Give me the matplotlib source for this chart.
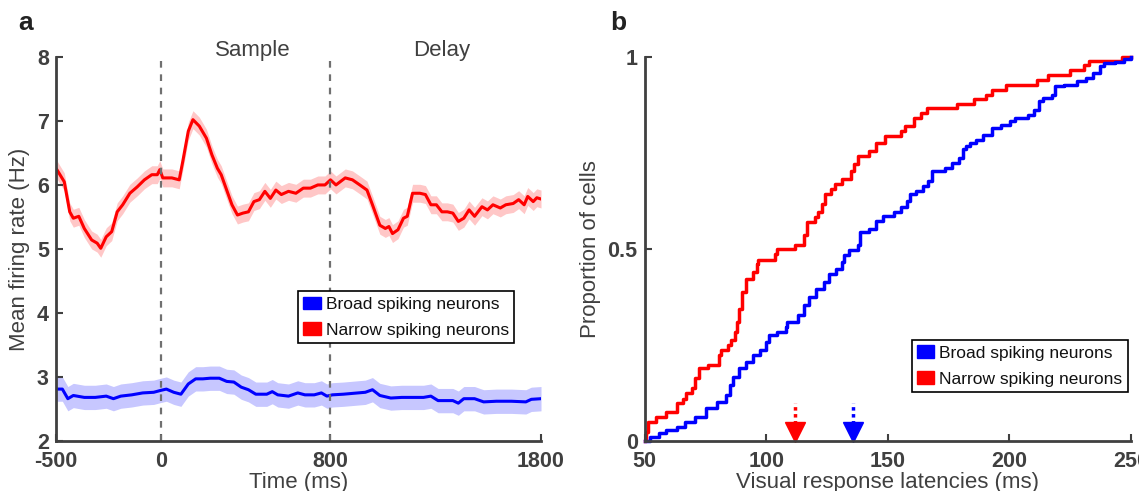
import numpy as np
import matplotlib.pyplot as plt
from matplotlib.patches import Patch

# ---- panel a: mean firing rate over time ----
narrow_t = [-495, -460, -434, -417, -391, -365, -330, -304, -287, -261, -235, -209, -183, -149, -114,
            -80, -45, -19, -7, 7, 50, 85, 102, 128, 150, 180, 214, 240, 266, 284, 310, 335, 361, 387,
            413, 439, 465, 491, 517, 543, 569, 603, 638, 673, 707, 742, 776, 802, 828, 872, 906, 941,
            975, 1001, 1036, 1062, 1079, 1096, 1122, 1148, 1166, 1191, 1226, 1252, 1278, 1304, 1330,
            1356, 1382, 1408, 1434, 1459, 1485, 1520, 1546, 1572, 1607, 1633, 1668, 1694, 1720, 1737,
            1763, 1780, 1800]
narrow_rate = [6.24, 6.05, 5.58, 5.48, 5.51, 5.32, 5.14, 5.09, 5.01, 5.19, 5.27, 5.58, 5.69, 5.87, 5.97,
               6.08, 6.16, 6.16, 6.24, 6.11, 6.11, 6.08, 6.37, 6.84, 7.02, 6.92, 6.73, 6.47, 6.26, 6.16,
               5.92, 5.69, 5.53, 5.56, 5.58, 5.74, 5.77, 5.90, 5.79, 5.92, 5.85, 5.90, 5.87, 5.95, 5.95,
               6.00, 6.00, 6.08, 6.00, 6.11, 6.08, 6.00, 5.92, 5.69, 5.37, 5.32, 5.35, 5.24, 5.30, 5.48,
               5.51, 5.87, 5.87, 5.85, 5.69, 5.69, 5.58, 5.58, 5.56, 5.43, 5.48, 5.61, 5.51, 5.66, 5.61,
               5.69, 5.64, 5.69, 5.71, 5.77, 5.69, 5.82, 5.74, 5.80, 5.78]
narrow_sem = 0.14

broad_t = [-495, -469, -443, -417, -365, -313, -261, -227, -192, -140, -88, -36, -2, 24, 59, 93, 128,
           163, 197, 232, 275, 310, 344, 379, 413, 448, 500, 526, 552, 603, 647, 681, 725, 759, 785,
           811, 863, 932, 967, 1001, 1036, 1088, 1140, 1191, 1243, 1278, 1312, 1382, 1408, 1434, 1485,
           1528, 1589, 1659, 1728, 1754, 1800]
broad_rate = [2.81, 2.81, 2.66, 2.71, 2.68, 2.68, 2.70, 2.66, 2.70, 2.72, 2.75, 2.76, 2.79, 2.81, 2.76,
              2.73, 2.89, 2.97, 2.97, 2.98, 2.98, 2.93, 2.92, 2.84, 2.80, 2.73, 2.73, 2.77, 2.72, 2.70,
              2.75, 2.72, 2.72, 2.75, 2.70, 2.72, 2.73, 2.75, 2.76, 2.80, 2.71, 2.67, 2.68, 2.68, 2.68,
              2.70, 2.63, 2.63, 2.59, 2.66, 2.66, 2.61, 2.62, 2.62, 2.61, 2.65, 2.66]
broad_sem = 0.19

epoch_lines = [0, 800]
epoch_names = ['Sample', 'Delay']
epoch_centers = [436, 1330]

# ---- panel b: cumulative latency distributions ----
narrow_lat = [50, 50.7, 51.5, 54.5, 58.9, 63.4, 65.6, 67.1, 69.3, 70.8, 72.3, 76.0, 80.5, 81.2, 84.2,
              85.7, 87.2, 87.9, 88.7, 90.1, 91.6, 94.6, 96.1, 96.8, 103.5, 104.3, 111.7, 115.4, 116.9,
              119.9, 121.4, 122.9, 124.3, 126.6, 128.1, 131.0, 134.8, 136.2, 137.7, 142.2, 145.2,
              148.9, 155.6, 157.1, 160.8, 163.8, 166.0, 178.6, 185.3, 190.5, 192.7, 198.7, 211.3,
              215.8, 224.7, 230.7, 232.9, 246.3, 250]
narrow_prop = [0, 0.024, 0.05, 0.063, 0.076, 0.098, 0.11, 0.124, 0.137, 0.163, 0.19, 0.197, 0.223,
               0.236, 0.249, 0.262, 0.284, 0.31, 0.344, 0.388, 0.422, 0.44, 0.46, 0.47, 0.487, 0.5,
               0.509, 0.535, 0.569, 0.582, 0.595, 0.617, 0.643, 0.656, 0.669, 0.682, 0.703, 0.72,
               0.742, 0.755, 0.777, 0.794, 0.807, 0.82, 0.842, 0.855, 0.868, 0.877, 0.89, 0.9, 0.915,
               0.928, 0.941, 0.954, 0.967, 0.98, 0.99, 1.0, 1.0]

broad_lat = [50, 52.2, 55.9, 58.9, 63.4, 66.4, 70.8, 75.3, 79.7, 83.5, 84.9, 86.4, 88.7, 91.6, 94.6,
             97.6, 99.8, 101.3, 104.3, 108.0, 108.7, 113.2, 115.4, 117.7, 120.6, 123.6, 125.8, 128.8,
             131.0, 131.8, 134.0, 137.7, 138.5, 142.2, 145.2, 148.1, 152.6, 155.6, 157.8, 159.3,
             161.5, 164.5, 166.7, 168.2, 173.4, 176.4, 179.4, 180.9, 182.3, 183.8, 186.1, 189.0,
             192.7, 196.5, 200.2, 202.4, 207.6, 209.9, 212.1, 213.6, 217.3, 218.8, 222.5, 227.7,
             231.4, 234.4, 237.4, 238.8, 243.3, 247.0, 250.0]
broad_prop = [0, 0.011, 0.02, 0.029, 0.037, 0.05, 0.063, 0.085, 0.102, 0.119, 0.145, 0.167, 0.189,
              0.206, 0.223, 0.236, 0.258, 0.275, 0.284, 0.297, 0.31, 0.327, 0.353, 0.375, 0.396,
              0.413, 0.435, 0.448, 0.465, 0.483, 0.496, 0.509, 0.543, 0.552, 0.574, 0.587, 0.595,
              0.608, 0.625, 0.643, 0.651, 0.664, 0.678, 0.703, 0.712, 0.725, 0.738, 0.76, 0.768,
              0.777, 0.785, 0.798, 0.816, 0.824, 0.833, 0.842, 0.85, 0.863, 0.885, 0.894, 0.902,
              0.924, 0.928, 0.937, 0.946, 0.958, 0.976, 0.984, 0.988, 0.995, 1.0]

median_narrow = 112
median_broad = 135.5

RED = '#ff0000'
BLUE = '#0000ff'
GREY = '#404040'

plt.rcParams['font.family'] = ['Liberation Sans', 'DejaVu Sans']
plt.rcParams['axes.unicode_minus'] = False

fig = plt.figure(figsize=(11.39, 4.91), dpi=100)
axA = fig.add_axes([0.049, 0.102, 0.426, 0.782])
axB = fig.add_axes([0.566, 0.102, 0.427, 0.782])


def style(ax):
  for s in ['top', 'right']:
    ax.spines[s].set_visible(False)
  for s in ['left', 'bottom']:
    ax.spines[s].set_color(GREY)
    ax.spines[s].set_linewidth(2)
  ax.tick_params(direction='in', length=5, width=1.5, colors=GREY, labelsize=15.5)
  ax.tick_params(axis='x', pad=7)
  ax.tick_params(axis='y', pad=5)
  for lab in ax.get_xticklabels() + ax.get_yticklabels():
    lab.set_fontweight('bold')


def legend(ax, anchor):
  handles = [Patch(color=BLUE, label='Broad spiking neurons'),
             Patch(color=RED, label='Narrow spiking neurons')]
  leg = ax.legend(handles=handles, loc='lower left', bbox_to_anchor=anchor, fontsize=12.5,
                  fancybox=False, framealpha=1, edgecolor='black', handlelength=1.0,
                  handleheight=0.75, handletextpad=0.3, borderpad=0.3, labelspacing=0.6,
                  borderaxespad=0)
  leg.get_frame().set_linewidth(1.2)
  for t in leg.get_texts():
    t.set_color('#111111')


# Panel a
nt = np.array(narrow_t); nr = np.array(narrow_rate)
bt = np.array(broad_t); br = np.array(broad_rate)
axA.fill_between(nt, nr - narrow_sem, nr + narrow_sem, color=RED, alpha=0.22, lw=0)
axA.fill_between(bt, br - broad_sem, br + broad_sem, color=BLUE, alpha=0.22, lw=0)
axA.plot(nt, nr, color=RED, lw=2.2)
axA.plot(bt, br, color=BLUE, lw=2.2)
for x in epoch_lines:
  axA.plot([x, x], [2, 8], color='#707070', lw=1.6, ls=(0, (3, 3)))
for name, c in zip(epoch_names, epoch_centers):
  axA.text(c, 8.1, name, ha='center', va='center', fontsize=16, color=GREY, clip_on=False)
axA.set_xlim(-500, 1800)
axA.set_ylim(2, 8)
axA.set_xticks([-500, 0, 800, 1800])
axA.set_yticks([2, 3, 4, 5, 6, 7, 8])
style(axA)
axA.set_xlabel('Time (ms)', fontsize=16, color=GREY, labelpad=0)
axA.set_ylabel('Mean firing rate (Hz)', fontsize=16, color=GREY, labelpad=5)
legend(axA, (0.499, 0.255))

# Panel b
axB.step(narrow_lat, narrow_prop, where='post', color=RED, lw=2.5, clip_on=False)
axB.step(broad_lat, broad_prop, where='post', color=BLUE, lw=2.5, clip_on=False)
for m, col in [(median_narrow, RED), (median_broad, BLUE)]:
  axB.plot([m, m], [0.045, 0.098], color=col, lw=2.5, ls=(0, (1, 1)))
  axB.plot([m], [0.024], marker='v', color=col, markersize=14, clip_on=False)
axB.set_xlim(50, 250)
axB.set_ylim(0, 1)
axB.set_xticks([50, 100, 150, 200, 250])
axB.set_yticks([0, 0.5, 1])
axB.set_yticklabels(['0', '0.5', '1'])
style(axB)
axB.set_xlabel('Visual response latencies (ms)', fontsize=16, color=GREY, labelpad=0)
axB.set_ylabel('Proportion of cells', fontsize=16, color=GREY, labelpad=5)
legend(axB, (0.549, 0.128))

fig.text(18 / 1139, 1 - 23 / 491, 'a', fontsize=19, fontweight='bold', color='#222222',
         ha='left', va='center')
fig.text(610 / 1139, 1 - 23 / 491, 'b', fontsize=19, fontweight='bold', color='#222222',
         ha='left', va='center')

fig.savefig('out.png', dpi=100)
